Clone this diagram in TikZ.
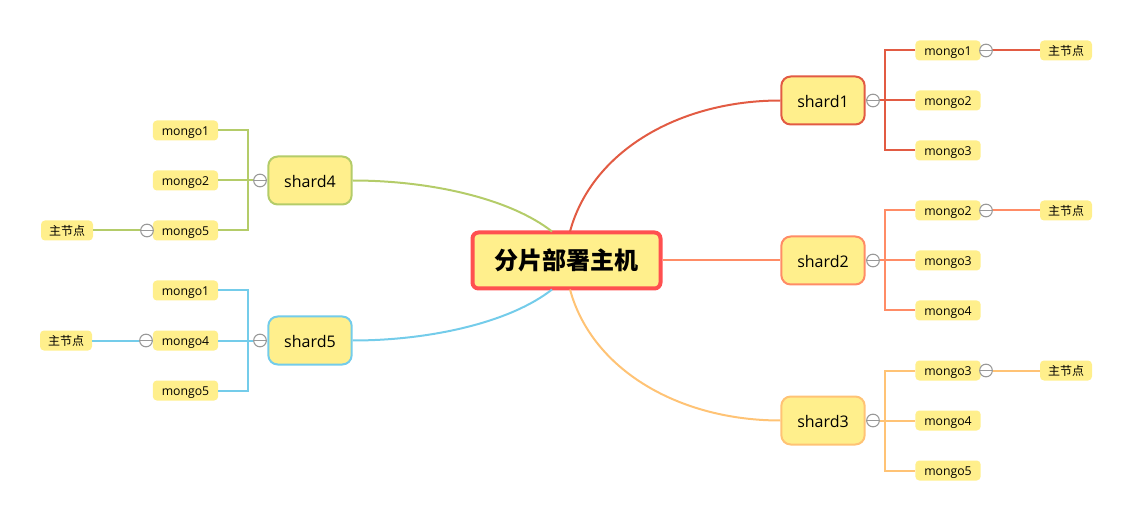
\documentclass[tikz,border=0pt]{standalone}
\usepackage{fontspec}
\setmainfont{Open Sans}
\newfontfamily\cjk{Noto Sans CJK SC}
\usetikzlibrary{positioning}
\definecolor{notefill}{HTML}{FFEF8C}
\definecolor{rootline}{HTML}{FF5050}
\definecolor{lineone}{HTML}{E25B43}
\definecolor{linetwo}{HTML}{FF8C66}
\definecolor{linethree}{HTML}{FFC375}
\definecolor{linefour}{HTML}{B4CC69}
\definecolor{linefive}{HTML}{74CCEA}
\tikzset{
  rootbox/.style={draw=rootline, fill=notefill, line width=3pt, rounded corners=4.5pt,
    minimum width=141pt, minimum height=42pt, font=\cjk\fontsize{18}{20}\selectfont\bfseries},
  shardbox/.style={fill=notefill, line width=1.5pt, rounded corners=7pt, text height=10.5pt, text depth=0pt,
    minimum width=62.5pt, minimum height=36pt, inner sep=0pt, font=\fontsize{12}{14}\selectfont},
  leafbox/.style={fill=notefill, rounded corners=3pt, minimum width=49pt, minimum height=15pt,
    text height=7.5pt, text depth=0pt, inner sep=0pt, font=\fontsize{9.2}{11}\selectfont},
  masterbox/.style={leafbox, minimum width=39pt, text height=8pt, text depth=0pt, font=\cjk\fontsize{9}{11}\selectfont},
  link/.style={line width=1.5pt},
  collapse/.style={circle, draw=black!40, fill=white, line width=0.8pt, minimum size=9.5pt, inner sep=0pt,
    path picture={\draw[black!40, line width=0.8pt] (path picture bounding box.west) -- (path picture bounding box.east);}}
}
\begin{document}
\begin{tikzpicture}[x=0.75pt, y=-0.75pt]
  \useasboundingbox (0,-0.5) rectangle (1132,519.5);
  \node[rootbox] (root) at (566.5,260) {分片部署主机};
  % right side
  \foreach \s/\y/\col/\a/\b/\c in {1/100/lineone/mongo1/mongo2/mongo3,
    2/260/linetwo/mongo2/mongo3/mongo4, 3/420/linethree/mongo3/mongo4/mongo5}
  {
    \node[shardbox, draw=\col] (shard\s) at (823,\y) {shard\s};
    \node[leafbox] (s\s a) at (948,\y-50) {\a};
    \node[leafbox] (s\s b) at (948,\y) {\b};
    \node[leafbox] (s\s c) at (948,\y+50) {\c};
    \node[masterbox] (s\s m) at (1066,\y-50) {主节点};
    \coordinate (s\s fork) at (885,\y);
    \draw[link, \col] (shard\s) -- (s\s b);
    \draw[link, \col] (s\s a.west) -| (s\s fork) |- (s\s c.west);
    \draw[link, \col] (s\s a) -- (s\s m);
    \node[collapse] (s\s t) at (873,\y) {};
    \node[collapse] (s\s u) at (986,\y-50) {};
  }
  % left side
  \foreach \s/\y/\col/\a/\b/\c in {4/180/linefour/mongo1/mongo2/mongo5,
    5/340/linefive/mongo1/mongo4/mongo5}
  {
    \node[shardbox, draw=\col] (shard\s) at (310,\y) {shard\s};
    \node[leafbox] (s\s a) at (185.5,\y-50) {\a};
    \node[leafbox] (s\s b) at (185.5,\y) {\b};
    \node[leafbox] (s\s c) at (185.5,\y+50) {\c};
    \coordinate (s\s fork) at (248,\y);
    \draw[link, \col] (shard\s) -- (s\s b);
    \draw[link, \col] (s\s a.east) -| (s\s fork) |- (s\s c.east);
    \node[collapse] (s\s t) at (260,\y) {};
  }
  \node[masterbox] (s4m) at (67,230) {主节点};
  \node[masterbox] (s5m) at (66,340) {主节点};
  \draw[link, linefour] (s4c) -- (s4m);
  \draw[link, linefive] (s5b) -- (s5m);
  \node[collapse] (s4u) at (147,230) {};
  \node[collapse] (s5u) at (146,340) {};
  % root to shards
  \coordinate (rootne) at (570,231);
  \coordinate (rootse) at (570,289);
  \coordinate (rootnw) at (552,231);
  \coordinate (rootsw) at (552,289);
  \draw[link, lineone] (rootne) .. controls (592,150) and (680,100) .. (shard1.west);
  \draw[link, linetwo] (root) -- (shard2);
  \draw[link, linethree] (rootse) .. controls (592,370) and (680,420) .. (shard3.west);
  \draw[link, linefour] (rootnw) .. controls (510,198) and (430,180) .. (shard4.east);
  \draw[link, linefive] (rootsw) .. controls (510,322) and (430,340) .. (shard5.east);
\end{tikzpicture}
\end{document}
